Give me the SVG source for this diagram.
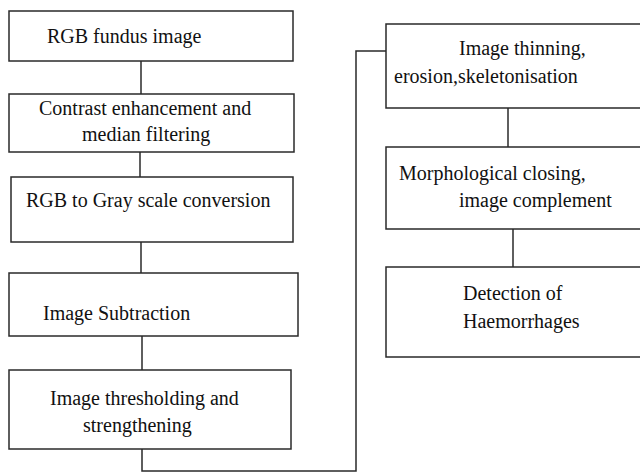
<svg xmlns="http://www.w3.org/2000/svg" width="640" height="473" viewBox="0 0 640 473">
<style>
.box{fill:#fff;stroke:#2a2a2a;stroke-width:1.5}
.lbl{font-family:'Liberation Serif','Times New Roman',serif;font-size:20px;fill:#111}
.conn{fill:none;stroke:#2a2a2a;stroke-width:1.5}
</style>
<rect width="640" height="473" fill="#fff"/>
<g id="connectors">
<path class="conn" d="M141 61V94"/>
<path class="conn" d="M140 152V177"/>
<path class="conn" d="M141 242V273"/>
<path class="conn" d="M142 336V370"/>
<path class="conn" d="M142 449V471H356V51H386"/>
<path class="conn" d="M508 108V147"/>
<path class="conn" d="M513 229V267"/>
</g>
<g id="n1"><rect class="box" x="9" y="11" width="284" height="50"/><text class="lbl" x="47" y="43">RGB fundus image</text></g>
<g id="n2"><rect class="box" x="9" y="94" width="285" height="58"/><text class="lbl" x="39" y="115">Contrast enhancement and</text><text class="lbl" x="82" y="141">median filtering</text></g>
<g id="n3"><rect class="box" x="11" y="177" width="282" height="65"/><text class="lbl" x="26" y="207">RGB to Gray scale conversion</text></g>
<g id="n4"><rect class="box" x="9" y="273" width="289" height="63"/><text class="lbl" x="43" y="320">Image Subtraction</text></g>
<g id="n5"><rect class="box" x="9" y="370" width="282" height="79"/><text class="lbl" x="50" y="405">Image thresholding and</text><text class="lbl" x="83" y="432">strengthening</text></g>
<g id="n6"><path class="box" d="M641 24H386V108H641"/><text class="lbl" x="459" y="55">Image thinning,</text><text class="lbl" x="394" y="83">erosion,skeletonisation</text></g>
<g id="n7"><path class="box" d="M641 147H386V229H641"/><text class="lbl" x="399" y="180">Morphological closing,</text><text class="lbl" x="459" y="207">image complement</text></g>
<g id="n8"><path class="box" d="M641 267H386V357H641"/><text class="lbl" x="463" y="300">Detection of</text><text class="lbl" x="463" y="328">Haemorrhages</text></g>
</svg>
